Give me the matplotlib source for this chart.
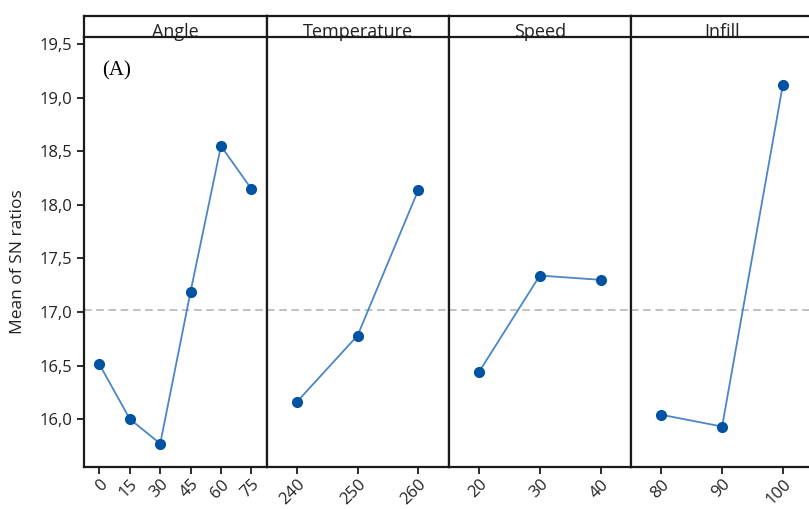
"""Main effects plot for SN ratios (panel A)."""

import matplotlib
matplotlib.use('Agg')
import matplotlib.pyplot as plt
from matplotlib.ticker import FixedLocator, FuncFormatter

# factor names and levels
FACTORS = ['Angle', 'Temperature', 'Speed', 'Infill']
angle_levels = ['0', '15', '30', '45', '60', '75']
temperature_levels = ['240', '250', '260']
speed_levels = ['20', '30', '40']
infill_levels = ['80', '90', '100']

# mean of SN ratios
angle_sn = [16.51, 16.00, 15.77, 17.19, 18.55, 18.15]
temperature_sn = [16.16, 16.78, 18.14]
speed_sn = [16.44, 17.34, 17.30]
infill_sn = [16.04, 15.93, 19.12]

grand_mean = 17.02
y_ticks = [16.0, 16.5, 17.0, 17.5, 18.0, 18.5, 19.0, 19.5]


def main():
    plt.rcParams['font.family'] = ['Open Sans', 'DejaVu Sans']
    fig = plt.figure(figsize=(8.09, 5.09), dpi=100)
    W, H = 809.0, 509.0

    levels = [angle_levels, temperature_levels, speed_levels, infill_levels]
    values = [angle_sn, temperature_sn, speed_sn, infill_sn]

    lefts = [84.3, 266.5, 448.7, 631.0]
    pw = 182.2
    bottom, top, strip_top = 466.7, 37.3, 15.7
    edge = '#1a1a1a'
    text_c = '#222222'

    for i, (name, lev, val) in enumerate(zip(FACTORS, levels, values)):
        ax = fig.add_axes([lefts[i] / W, 1 - bottom / H,
                           pw / W, (bottom - top) / H])
        x = list(range(len(lev)))
        ax.axhline(grand_mean, color='#b0b0b0', lw=1.1, ls=(0, (5, 3)),
                   zorder=1)
        ax.plot(x, val, color='#4a86c8', lw=1.3, zorder=2)
        ax.plot(x, val, ls='none', marker='o', ms=7, color='#0052a3',
                mec='#0052a3', zorder=3)
        ax.set_xlim(-0.5, len(lev) - 0.5)
        ax.set_ylim(15.555, 19.565)
        ax.set_xticks(x)
        ax.set_xticklabels(lev, rotation=45, ha='right', va='top',
                           rotation_mode='anchor', fontsize=12,
                           color=text_c, fontweight='medium')
        ax.tick_params(axis='x', length=5, width=1.3, color=edge, pad=2)
        for s in ax.spines.values():
            s.set_color(edge)
            s.set_linewidth(1.6)
        ax.spines['top'].set_visible(False)
        if i == 0:
            ax.yaxis.set_major_locator(FixedLocator(y_ticks))
            ax.yaxis.set_major_formatter(
                FuncFormatter(lambda v, p: f'{v:.1f}'.replace('.', ',')))
            ax.tick_params(axis='y', length=5, width=1.3, color=edge,
                           labelsize=12, labelcolor=text_c)
            for lab in ax.get_yticklabels():
                lab.set_fontweight('medium')
            ax.set_ylabel('Mean of SN ratios', fontsize=12.5, color=text_c)
            ax.yaxis.set_label_coords(-0.32, 0.477)
            ax.text(0.10, 0.945, '(A)', transform=ax.transAxes,
                    family='Liberation Serif', fontsize=15, va='top')
        else:
            ax.tick_params(axis='y', left=False, labelleft=False)

        # strip header
        sx = fig.add_axes([lefts[i] / W, 1 - top / H,
                           pw / W, (top - strip_top) / H])
        sx.set_xticks([])
        sx.set_yticks([])
        for s in sx.spines.values():
            s.set_color(edge)
            s.set_linewidth(1.6)
        sx.text(0.5, 0.03, name, ha='center', va='baseline',
                fontsize=13, color=text_c, transform=sx.transAxes)

    fig.savefig('out.png', dpi=100)


if __name__ == '__main__':
    main()
